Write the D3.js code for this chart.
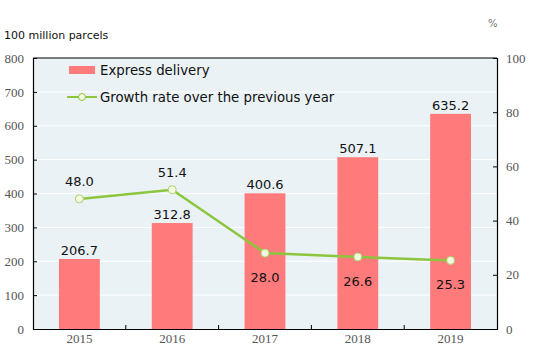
<!DOCTYPE html>
<html>
<head>
<meta charset="utf-8">
<script src="https://cdn.jsdelivr.net/npm/d3@7"></script>
<style>
    body { margin: 0; background: #fff; }
    .tick text { font-family: "Liberation Serif", serif; font-size: 13px; fill: #555; }
</style>
</head>
<body>
<div id="chart"></div>
<script>
// data
const years = ["2015", "2016", "2017", "2018", "2019"];
const parcels = [206.7, 312.8, 400.6, 507.1, 635.2];
const growth = [48.0, 51.4, 28.0, 26.6, 25.3];
const leftTicks = [0, 100, 200, 300, 400, 500, 600, 700, 800];
const rightTicks = [0, 20, 40, 60, 80, 100];
// growth labels drawn below the point for these years
const growthBelow = ["2017", "2018", "2019"];

const width = 543, height = 347;
const margin = {top: 58, right: 46, bottom: 18, left: 33};
const w = width - margin.left - margin.right;
const h = height - margin.top - margin.bottom;

const svg = d3.select("#chart").append("svg")
    .attr("width", width)
    .attr("height", height);

const g = svg.append("g")
    .attr("transform", "translate(" + margin.left + "," + margin.top + ")");

const x = d3.scaleBand().domain(years).range([0, w]);
const yL = d3.scaleLinear().domain([0, 800]).range([h, 0]);
const yR = d3.scaleLinear().domain([0, 100]).range([h, 0]);

// plot background
g.append("rect")
    .attr("width", w)
    .attr("height", h)
    .attr("fill", "#eaf2f6");

// grid lines
g.selectAll(".grid")
    .data(leftTicks.slice(1, -1))
    .enter().append("line")
    .attr("x1", 0).attr("x2", w)
    .attr("y1", d => yL(d)).attr("y2", d => yL(d))
    .attr("stroke", "#fff")
    .attr("stroke-width", 1);

// bars
const barW = x.bandwidth() * 0.44;
g.selectAll(".bar")
    .data(years)
    .enter().append("rect")
    .attr("x", (d) => x(d) + (x.bandwidth() - barW) / 2)
    .attr("y", (d, i) => yL(parcels[i]))
    .attr("width", barW)
    .attr("height", (d, i) => h - yL(parcels[i]))
    .attr("fill", "#ff7b7b");

// bar labels
g.selectAll(".barLabel")
    .data(years)
    .enter().append("text")
    .attr("x", d => x(d) + x.bandwidth() / 2)
    .attr("y", (d, i) => yL(parcels[i]) - 4)
    .attr("text-anchor", "middle")
    .style("font-family", "DejaVu Sans, sans-serif")
    .style("font-size", "13px")
    .attr("fill", "#111")
    .text((d, i) => parcels[i].toFixed(1));

// growth line
const line = d3.line()
    .x(d => x(d.year) + x.bandwidth() / 2)
    .y(d => yR(d.v));
const pts = years.map((d, i) => ({year: d, v: growth[i]}));

g.append("path")
    .datum(pts)
    .attr("d", line)
    .attr("fill", "none")
    .attr("stroke", "#8cc63f")
    .attr("stroke-width", 2.5);

g.selectAll(".pt")
    .data(pts)
    .enter().append("circle")
    .attr("cx", d => x(d.year) + x.bandwidth() / 2)
    .attr("cy", d => yR(d.v))
    .attr("r", 4)
    .attr("fill", "#f6f9e2")
    .attr("stroke", "#a9d468")
    .attr("stroke-width", 1);

g.selectAll(".ptLabel")
    .data(pts)
    .enter().append("text")
    .attr("x", d => x(d.year) + x.bandwidth() / 2)
    .attr("y", d => growthBelow.includes(d.year) ? yR(d.v) + 29 : yR(d.v) - 13)
    .attr("text-anchor", "middle")
    .style("font-family", "DejaVu Sans, sans-serif")
    .style("font-size", "13px")
    .attr("fill", "#111")
    .text(d => d.v.toFixed(1));

// axes
const axL = g.append("g")
    .call(d3.axisLeft(yL).tickValues(leftTicks).tickSize(-4).tickPadding(9));
const axR = g.append("g")
    .attr("transform", "translate(" + w + ",0)")
    .call(d3.axisRight(yR).tickValues(rightTicks).tickSize(-4).tickPadding(9));
const axB = g.append("g")
    .attr("transform", "translate(0," + h + ")")
    .call(d3.axisBottom(x).tickSize(0).tickPadding(5));

// category boundary ticks on x axis
g.selectAll(".xb")
    .data(years.slice(1))
    .enter().append("line")
    .attr("x1", d => x(d)).attr("x2", d => x(d))
    .attr("y1", h).attr("y2", h - 4)
    .attr("stroke", "#000");

[axL, axR, axB].forEach(a => {
    a.select(".domain").attr("stroke", "#000").attr("stroke-width", 1.2);
    a.selectAll(".tick line").attr("stroke", "#000");
});

// top border
g.append("line")
    .attr("x1", 0).attr("x2", w)
    .attr("y1", 0).attr("y2", 0)
    .attr("stroke", "#000")
    .attr("stroke-width", 1.2);

// legend
const leg = g.append("g").attr("transform", "translate(36,8)");
leg.append("rect")
    .attr("x", 0).attr("y", 0)
    .attr("width", 26).attr("height", 8)
    .attr("fill", "#ff7b7b");
leg.append("text")
    .attr("x", 31).attr("y", 9)
    .style("font-family", "DejaVu Sans, sans-serif")
    .style("font-size", "13.3px")
    .attr("fill", "#111")
    .text("Express delivery");
leg.append("line")
    .attr("x1", -2).attr("x2", 28)
    .attr("y1", 31).attr("y2", 31)
    .attr("stroke", "#8cc63f")
    .attr("stroke-width", 2);
leg.append("circle")
    .attr("cx", 13).attr("cy", 31).attr("r", 3.5)
    .attr("fill", "#f6f9e2")
    .attr("stroke", "#8cc63f");
leg.append("text")
    .attr("x", 31).attr("y", 36)
    .style("font-family", "DejaVu Sans, sans-serif")
    .style("font-size", "13.3px")
    .attr("fill", "#111")
    .text("Growth rate over the previous year");

// unit labels
svg.append("text")
    .attr("x", 4).attr("y", 39)
    .style("font-family", "DejaVu Sans, sans-serif")
    .style("font-size", "11px")
    .attr("fill", "#111")
    .text("100 million parcels");
svg.append("text")
    .attr("x", 488).attr("y", 27)
    .style("font-family", "DejaVu Sans, sans-serif")
    .style("font-size", "10px")
    .attr("fill", "#777")
    .text("%");
</script>
</body>
</html>
